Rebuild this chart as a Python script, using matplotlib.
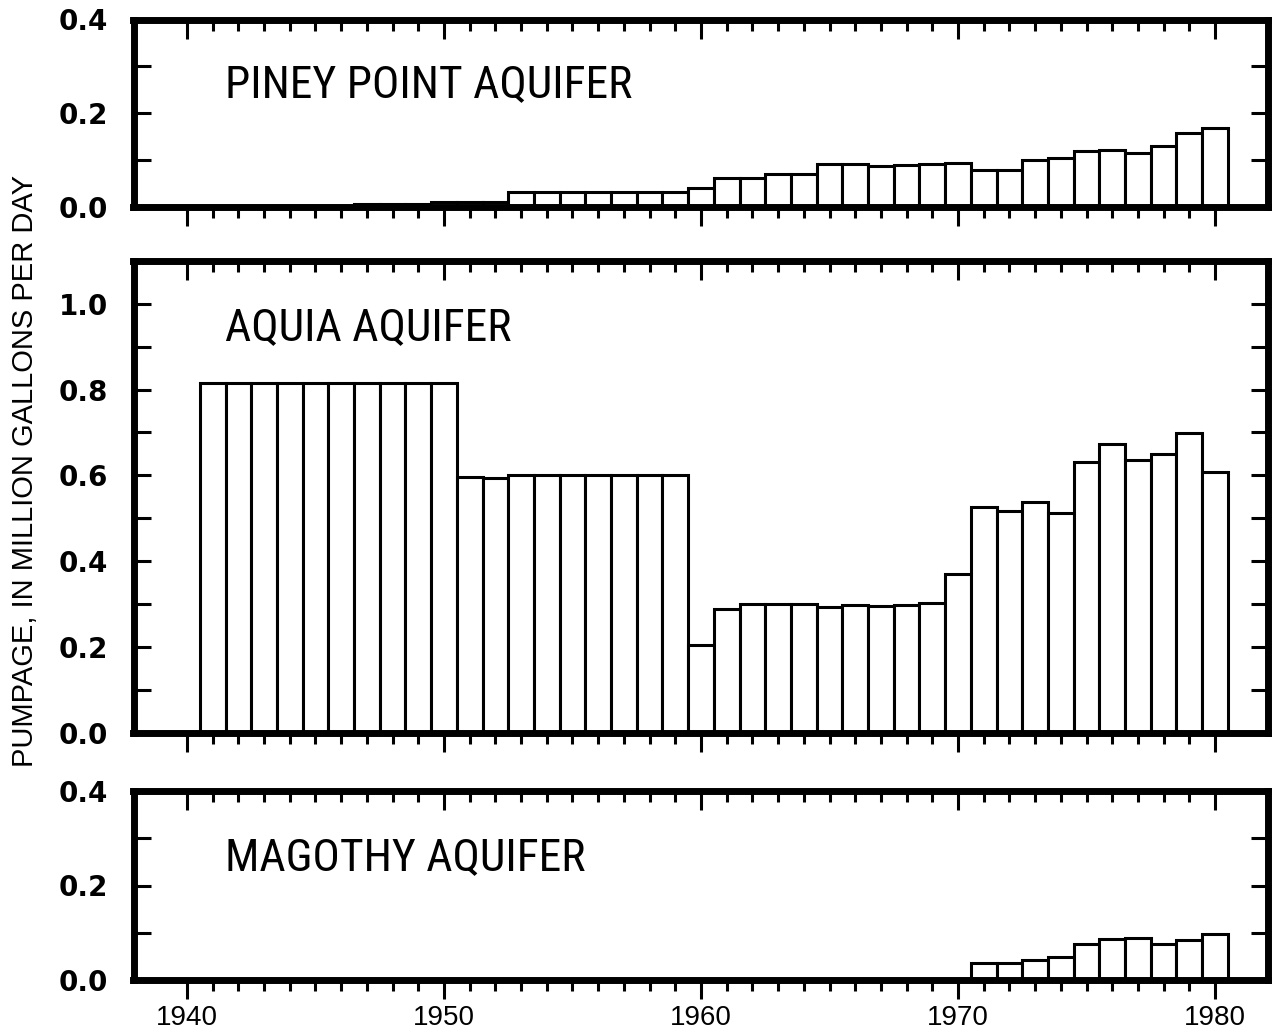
import matplotlib
matplotlib.use("Agg")
import matplotlib.pyplot as plt
from matplotlib import font_manager
from matplotlib.ticker import FixedLocator

# Annual pumpage, million gallons per day, by aquifer
years = list(range(1941, 1981))

piney_point = [
    0.0, 0.0, 0.0, 0.0, 0.0, 0.0, 0.006, 0.006, 0.006, 0.009,
    0.009, 0.009, 0.030, 0.030, 0.030, 0.030, 0.030, 0.030, 0.030, 0.040,
    0.060, 0.060, 0.070, 0.070, 0.090, 0.090, 0.086, 0.089, 0.090, 0.093,
    0.079, 0.078, 0.100, 0.103, 0.119, 0.121, 0.115, 0.129, 0.157, 0.168,
]

aquia = [
    0.815, 0.815, 0.815, 0.815, 0.815, 0.815, 0.815, 0.815, 0.815, 0.815,
    0.595, 0.593, 0.600, 0.600, 0.600, 0.600, 0.600, 0.600, 0.600, 0.205,
    0.288, 0.300, 0.300, 0.300, 0.293, 0.297, 0.294, 0.297, 0.301, 0.370,
    0.526, 0.517, 0.537, 0.511, 0.631, 0.672, 0.636, 0.650, 0.698, 0.608,
]

magothy = [
    0.0, 0.0, 0.0, 0.0, 0.0, 0.0, 0.0, 0.0, 0.0, 0.0,
    0.0, 0.0, 0.0, 0.0, 0.0, 0.0, 0.0, 0.0, 0.0, 0.0,
    0.0, 0.0, 0.0, 0.0, 0.0, 0.0, 0.0, 0.0, 0.0, 0.0,
    0.035, 0.037, 0.043, 0.048, 0.076, 0.087, 0.089, 0.076, 0.085, 0.098,
]

panel_titles = ["PINEY POINT AQUIFER", "AQUIA AQUIFER", "MAGOTHY AQUIFER"]
decade_ticks = [1940, 1950, 1960, 1970, 1980]
decade_labels = ["1940", "1950", "1960", "1970", "1980"]
y_label = "PUMPAGE, IN MILLION GALLONS PER DAY"


def narrow_title_font():
    """Prefer a narrow/condensed sans for the panel captions."""
    wanted = ["Liberation Sans Narrow", "Roboto Condensed", "Open Sans Condensed",
              "Noto Sans Condensed"]
    fonts = font_manager.fontManager.ttflist
    for name in wanted:
        for f in fonts:
            if f.name == name and f.style == "normal" and f.weight in (400, "normal", "regular"):
                return font_manager.FontProperties(fname=f.fname)
    for f in fonts:
        if (f.name == "DejaVu Sans" and "Condensed" in f.fname
                and "Bold" not in f.fname and "Oblique" not in f.fname):
            return font_manager.FontProperties(fname=f.fname)
    return font_manager.FontProperties(family="Liberation Sans")


W, H = 1277, 1034
fig = plt.figure(figsize=(W / 100, H / 100), dpi=100)

left = 133.5 / W
width = (1268 - 133.5) / W
# (bottom px, top px, ymax, caption baseline as axes fraction)
panels = [
    (206.5, 19.5, 0.4, 0.586),
    (732.5, 261.0, 1.1, 0.8325),
    (980.0, 791.0, 0.4, 0.582),
]
series = [piney_point, aquia, magothy]

spine_lw = 5.0
tick_font = {"family": "DejaVu Sans", "weight": "bold", "size": 20}
title_fp = narrow_title_font()
titles = []

for i, ((bpx, tpx, ymax, ty), vals, title) in enumerate(zip(panels, series, panel_titles)):
    ax = fig.add_axes([left, 1 - bpx / H, width, (bpx - tpx) / H])
    xs = [x for x, v in zip(years, vals) if v > 0]
    hs = [v for v in vals if v > 0]
    ax.bar(xs, hs, width=1.0, color="white", edgecolor="black",
           linewidth=2.2, zorder=2)
    ax.set_xlim(1937.92, 1982.06)
    ax.set_ylim(0, ymax)

    for s in ax.spines.values():
        s.set_linewidth(spine_lw)
        s.set_zorder(3)

    # y ticks every 0.1, labels every 0.2
    nt = int(round(ymax / 0.1))
    yt = [k * 0.1 for k in range(nt + 1)]
    ax.set_yticks(yt)
    ax.set_yticklabels([f"{v:.1f}" if k % 2 == 0 else "" for k, v in enumerate(yt)],
                       fontdict=tick_font)
    ax.tick_params(axis="y", direction="in", left=True, right=True,
                   length=12, width=2.2, pad=18)

    # x ticks: decades long, single years short; bottom ticks point outward
    ax.xaxis.set_major_locator(FixedLocator(decade_ticks))
    ax.xaxis.set_minor_locator(FixedLocator(list(range(1940, 1981))))
    ax.tick_params(axis="x", which="major", direction="out", length=14,
                   width=2.2, pad=4, top=False)
    ax.tick_params(axis="x", which="minor", direction="out", length=8,
                   width=2.2, top=False)
    if i == 2:
        ax.set_xticklabels(decade_labels, fontfamily="Liberation Sans",
                           fontsize=20)
    else:
        ax.set_xticklabels([])

    # top ticks pointing down into the panel
    top = ax.twiny()
    top.set_xlim(ax.get_xlim())
    for s in top.spines.values():
        s.set_visible(False)
    top.xaxis.set_major_locator(FixedLocator(decade_ticks))
    top.xaxis.set_minor_locator(FixedLocator(list(range(1940, 1981))))
    top.tick_params(axis="x", which="major", direction="in", length=14,
                    width=2.2, top=True, bottom=False, labeltop=False,
                    labelbottom=False)
    top.tick_params(axis="x", which="minor", direction="in", length=8,
                    width=2.2, top=True, bottom=False)

    t = ax.text(0.0807, ty, title, transform=ax.transAxes, ha="left",
                va="baseline", fontproperties=title_fp, fontsize=30)
    titles.append(t)

# size the captions so the first one spans its printed width
fig.canvas.draw()
renderer = fig.canvas.get_renderer()
w0 = titles[0].get_window_extent(renderer).width
size = 30 * 407.0 / w0
for t in titles:
    t.set_fontsize(size)

fig.text(0.0195, 0.5445, y_label, rotation=90, ha="center", va="center",
         fontsize=21, family="Liberation Sans")

fig.savefig("out.png", dpi=100, facecolor="white")
